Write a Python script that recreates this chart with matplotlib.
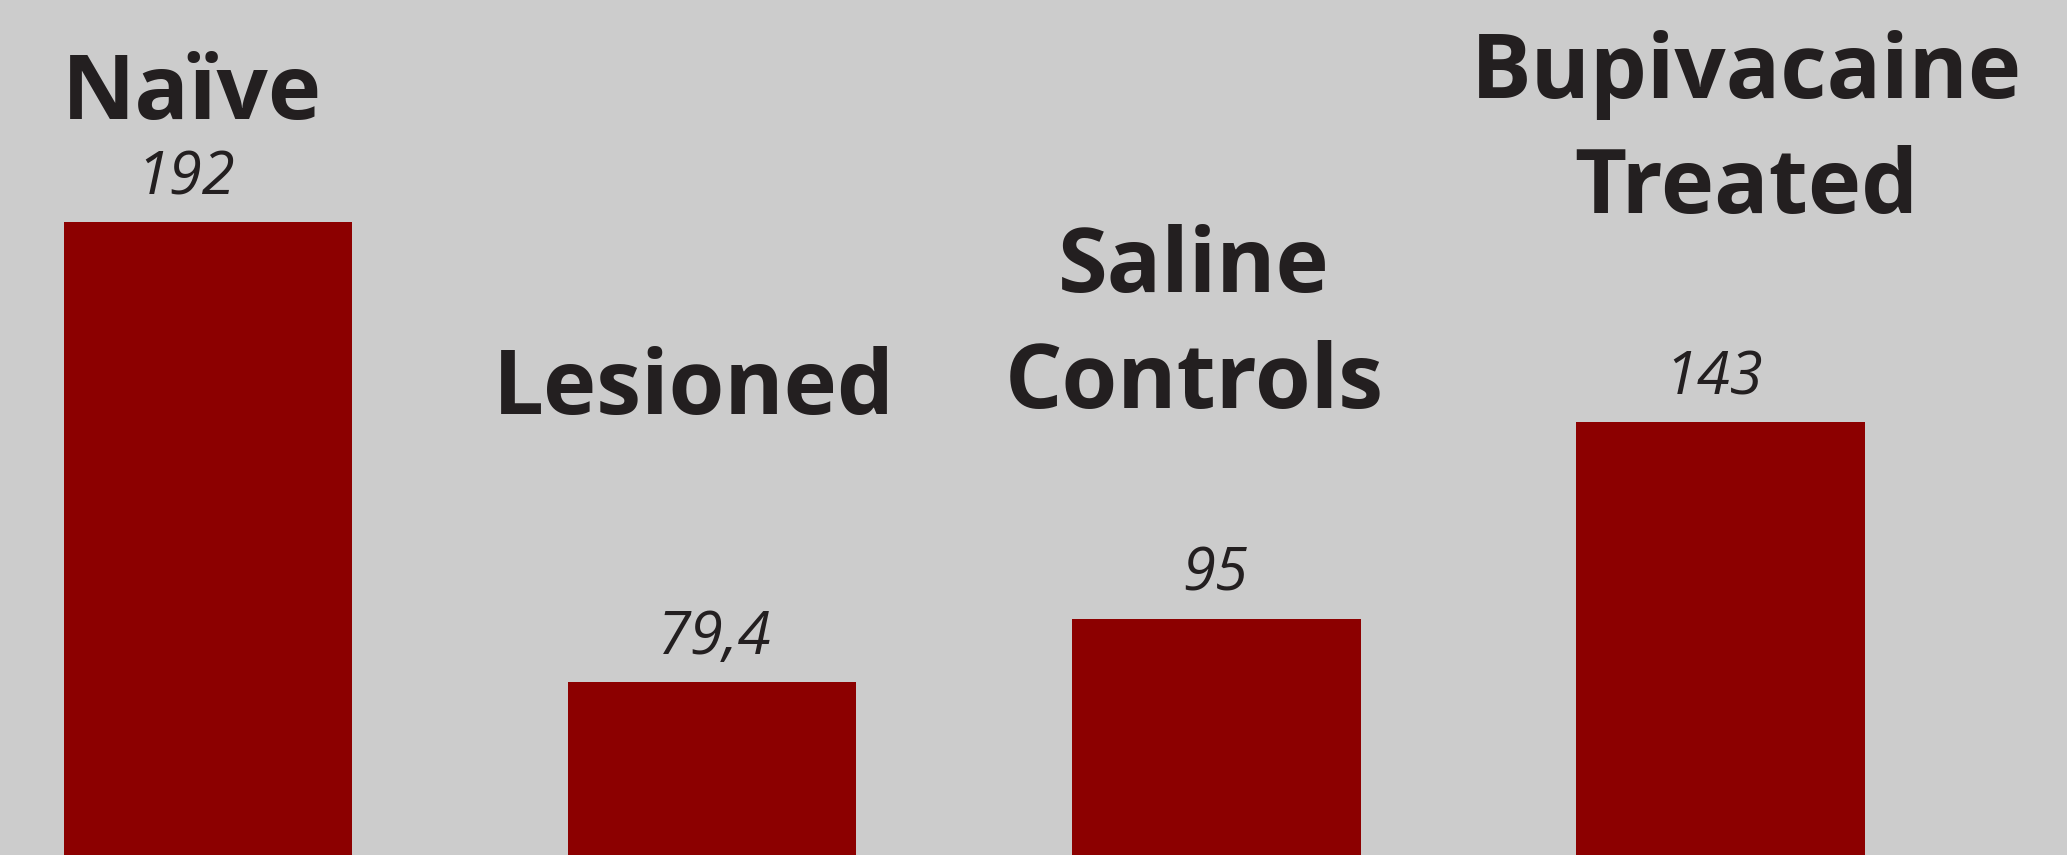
import matplotlib.pyplot as plt

groups = ['Naïve', 'Lesioned', 'Saline\nControls', 'Bupivacaine\nTreated']
values = [192, 79.4, 95, 143]

# hand placed label spots (data units), baseline of the last line
label_y = [217.2, 145.0, 146.5, 194.1]
label_dx = [-0.032, -0.036, -0.044, 0.052]
value_dx = [-0.044, 0.005, -0.002, -0.014]

bar_color = '#8c0000'
text_color = '#231f20'
bg = '#cccccc'

fig = plt.figure(figsize=(20.67, 8.55), dpi=100)
fig.patch.set_facecolor(bg)
ax = fig.add_axes([0, 0, 1, 1])
ax.set_facecolor(bg)

x = list(range(len(values)))
ax.bar(x, values, width=0.573, color=bar_color, zorder=2)

for i, v in enumerate(values):
    txt = f'{v:g}'.replace('.', ',')
    ax.annotate(txt, xy=(i + value_dx[i], v), xytext=(0, 28),
                textcoords='offset pixels', ha='center', va='baseline',
                fontsize=43, fontstyle='italic', family='Open Sans',
                color=text_color)
    ax.text(i + label_dx[i], label_y[i], groups[i], ha='center', va='baseline',
            fontsize=65, fontweight='bold', family='Open Sans',
            color=text_color, linespacing=1.38, multialignment='center')

ax.set_xlim(-0.4127, 3.688)
ax.set_ylim(37.2, 246.3)
ax.axis('off')

plt.savefig('out.png', dpi=100, facecolor=bg)
